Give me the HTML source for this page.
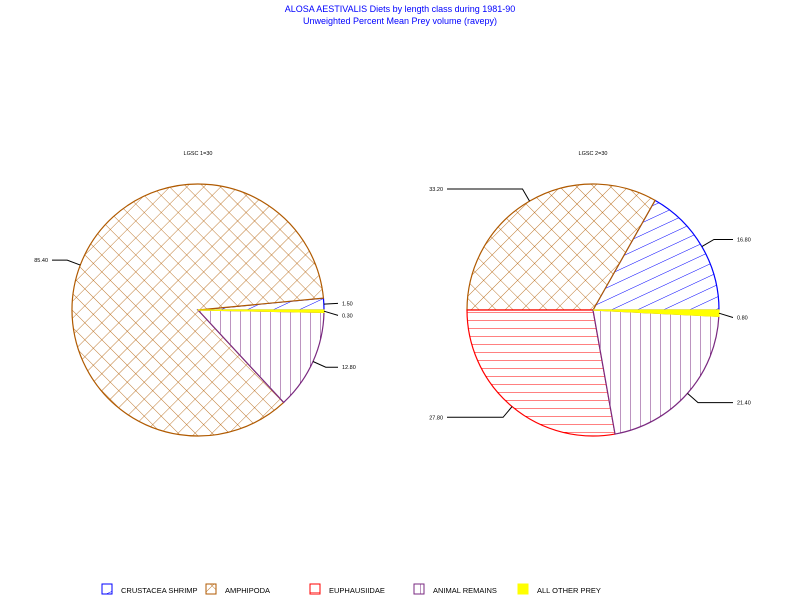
<!DOCTYPE html>
<html><head><meta charset="utf-8"><style>
body{margin:0;background:#fff;}
svg{display:block;font-family:"Liberation Sans",sans-serif;}
</style></head><body>
<svg id="chart" width="800" height="600" viewBox="0 0 800 600">
<defs>
<pattern id="p0" width="11" height="11" patternUnits="userSpaceOnUse" patternTransform="rotate(-25)"><rect width="11" height="11" fill="#fff"/><line x1="0" y1="0" x2="11" y2="0" stroke="#0000ff" stroke-width="1"/></pattern>
<pattern id="p1" width="12" height="12" patternUnits="userSpaceOnUse" patternTransform="rotate(45)"><rect width="12" height="12" fill="#fff"/><line x1="0" y1="0" x2="12" y2="0" stroke="#b05a00" stroke-width="0.8"/><line x1="0" y1="0" x2="0" y2="12" stroke="#b05a00" stroke-width="0.8"/></pattern>
<pattern id="p2" width="10" height="8" patternUnits="userSpaceOnUse"><rect width="10" height="8" fill="#fff"/><line x1="0" y1="0" x2="10" y2="0" stroke="#ff0000" stroke-width="1"/></pattern>
<pattern id="p3" width="10" height="10" patternUnits="userSpaceOnUse"><rect width="10" height="10" fill="#fff"/><line x1="0" y1="0" x2="0" y2="10" stroke="#7a2a80" stroke-width="1"/></pattern>
</defs>
<text x="400" y="12" text-anchor="middle" font-size="9" fill="#0000ff">ALOSA AESTIVALIS Diets by length class during 1981-90</text>
<text x="400" y="24" text-anchor="middle" font-size="9" fill="#0000ff">Unweighted Percent Mean Prey volume (ravepy)</text>
<g id="pies"></g>
<g id="legend"></g>
</svg>
<script>
const categories = ["CRUSTACEA SHRIMP","AMPHIPODA","EUPHAUSIIDAE","ANIMAL REMAINS","ALL OTHER PREY"];
const pieTitles = ["LGSC 1=30","LGSC 2=30"];
const pie1Values = [1.5, 85.4, 0, 12.8, 0.3];
const pie2Values = [16.8, 33.2, 27.8, 21.4, 0.8];
const colors = ["#0000ff","#b05a00","#ff0000","#7a2a80","#ffff00"];
const fills = ["url(#p0)","url(#p1)","url(#p2)","url(#p3)","#ffff00"];
const NS="http://www.w3.org/2000/svg";
const gp=document.getElementById('pies');
function mk(tag,attrs,parent){const e=document.createElementNS(NS,tag);for(const k in attrs)e.setAttribute(k,attrs[k]);parent.appendChild(e);return e;}
function drawPie(values,cx,cy,r,title,idx){
  const g=mk('g',{},gp);
  
  
  const t=mk('text',{x:cx,y:cy-155,'text-anchor':'middle','font-size':'5.5',fill:'#000'},g);
  t.textContent=title;
  
  
  const total=values.reduce((a,b)=>a+b,0);
  let a0=0;
  values.forEach((v,i)=>{
    if(v<=0)return;
    const sweep=v/total*2*Math.PI;
    const a1=a0+sweep;
    const x0=cx+r*Math.cos(a0),y0=cy-r*Math.sin(a0);
    const x1=cx+r*Math.cos(a1),y1=cy-r*Math.sin(a1);
    const large=sweep>Math.PI?1:0;
    const p=mk('path',{d:`M${cx},${cy} L${x0},${y0} A${r},${r} 0 ${large} 0 ${x1},${y1} Z`,fill:fills[i],stroke:colors[i],'stroke-width':1.2},g);
    
    
    const am=(a0+a1)/2;
    const ex=cx+r*Math.cos(am),ey=cy-r*Math.sin(am);
    const bx=cx+(r+14)*Math.cos(am),by=cy-(r+14)*Math.sin(am);
    const right=Math.cos(am)>=0;
    const lx=right?cx+r+14:cx-r-20;
    let ly=by;
    if(i===4 && right) ly=by+4;
    const l=mk('polyline',{points:`${ex},${ey} ${bx},${ly} ${lx},${ly}`,fill:'none',stroke:'#000','stroke-width':1},g);
    
    
    const lt=mk('text',{x:right?lx+4:lx-4,y:ly+2,'text-anchor':right?'start':'end','font-size':'5.5',fill:'#000'},g);
    lt.textContent=v.toFixed(2);
    
    
    a0=a1;
  });
}
drawPie(pie1Values,198,310,126,pieTitles[0],0);
drawPie(pie2Values,593,310,126,pieTitles[1],1);
const lg=document.getElementById('legend');
const lxs=[102,206,310,414,518];
categories.forEach((c,i)=>{
  const b=mk('rect',{x:lxs[i],y:584,width:10,height:10,fill:fills[i],stroke:colors[i],'stroke-width':1},lg);
  
  
  const t=mk('text',{x:lxs[i]+19,y:593,'font-size':'7.5',fill:'#000'},lg);
  t.textContent=c;
  
  
});
</script>
</body></html>
